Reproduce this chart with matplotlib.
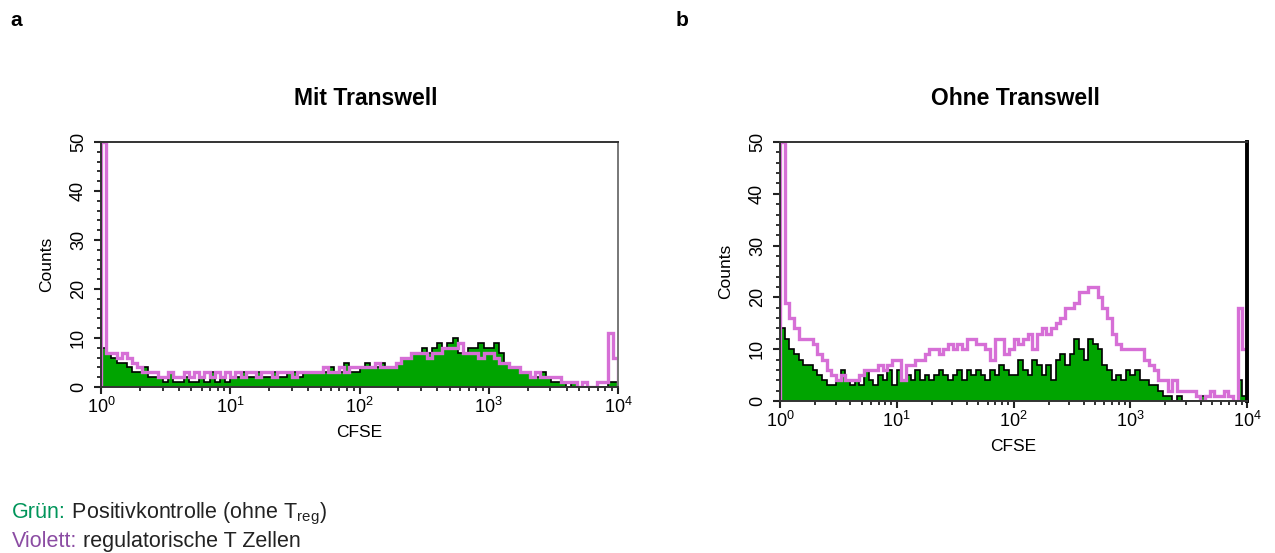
import matplotlib
matplotlib.use("Agg")
import matplotlib.pyplot as plt
import numpy as np
from matplotlib.ticker import MultipleLocator, LogLocator, NullFormatter

plt.rcParams['font.family'] = ['Liberation Sans', 'DejaVu Sans']
plt.rcParams['mathtext.fontset'] = 'custom'
plt.rcParams['mathtext.rm'] = 'Liberation Sans'
plt.rcParams['mathtext.it'] = 'Liberation Sans:italic'

# CFSE histograms, 25 channels per decade from 10^0 to 10^4
# panel a: Mit Transwell
green_a = [8, 7, 6, 5, 5, 4, 3, 3, 4, 2, 2, 2, 1, 3, 1, 1, 2, 1, 1, 2, 1, 3, 1, 2, 1,
           2, 2, 3, 2, 2, 3, 2, 2, 3, 2, 2, 3, 3, 2, 3, 3, 3, 3, 3, 4, 3, 3, 5, 3, 3,
           4, 5, 4, 4, 5, 4, 4, 5, 6, 6, 7, 7, 8, 7, 8, 9, 8, 9, 10, 7, 7, 8, 8, 9, 8,
           8, 9, 7, 5, 4, 4, 3, 3, 2, 2, 3, 2, 1, 1, 1, 0, 1, 0, 0, 0, 0, 0, 0, 1, 1]
violet_a = [50, 7, 7, 6, 7, 6, 5, 4, 3, 3, 3, 2, 2, 3, 2, 2, 3, 2, 3, 2, 3, 2, 3, 2, 3,
            2, 3, 2, 3, 3, 2, 3, 3, 2, 3, 3, 3, 2, 3, 3, 3, 3, 3, 4, 3, 3, 4, 3, 4, 4,
            4, 4, 4, 5, 4, 4, 4, 5, 6, 6, 7, 7, 7, 6, 7, 7, 8, 8, 8, 9, 7, 7, 7, 6, 7,
            7, 6, 5, 5, 4, 4, 3, 3, 2, 3, 2, 2, 2, 2, 1, 1, 1, 0, 1, 0, 0, 1, 1, 11, 6]

# panel b: Ohne Transwell
green_b = [14, 12, 10, 9, 8, 7, 7, 6, 5, 4, 3, 3, 4, 6, 4, 3, 4, 3, 6, 4, 3, 5, 4, 6, 3,
           6, 4, 5, 4, 6, 4, 5, 4, 5, 6, 5, 4, 5, 6, 4, 6, 5, 6, 5, 4, 6, 5, 7, 6, 5,
           5, 8, 6, 5, 8, 7, 5, 7, 4, 8, 9, 7, 9, 12, 10, 8, 12, 11, 10, 7, 6, 4, 5, 4, 6,
           5, 6, 4, 4, 3, 3, 2, 1, 1, 0, 1, 0, 0, 0, 0, 1, 0, 0, 0, 0, 0, 0, 0, 4, 1]
violet_b = [50, 19, 16, 14, 12, 12, 12, 11, 9, 8, 6, 5, 4, 5, 4, 4, 4, 5, 6, 6, 6, 7, 6, 7, 8,
            8, 4, 7, 7, 8, 8, 9, 10, 10, 9, 10, 11, 10, 11, 10, 12, 12, 11, 11, 10, 8, 12, 12, 9, 10,
            12, 11, 12, 13, 10, 13, 14, 13, 14, 15, 16, 18, 18, 19, 21, 21, 22, 22, 20, 18, 16, 13, 11, 10, 10,
            10, 10, 10, 8, 7, 6, 4, 4, 2, 4, 2, 2, 2, 2, 1, 0, 1, 2, 1, 1, 2, 1, 0, 18, 10]

GREEN = '#00a400'
VIOLET = '#d66fd6'
W, H = 1275, 553


def draw_panel(ax, green, violet, right_lw):
    edges = np.logspace(0, 4, len(green) + 1)
    ax.stairs(green, edges, fill=True, color=GREEN, lw=0)
    ax.stairs(green, edges, color='black', lw=1.2)
    ax.stairs(violet, edges, color=VIOLET, lw=2.4)
    ax.set_xscale('log')
    ax.set_xlim(1, 1e4)
    ax.set_ylim(0, 50)
    ax.xaxis.set_major_locator(LogLocator(base=10, numticks=10))
    ax.xaxis.set_minor_locator(LogLocator(base=10, subs=np.arange(2, 10), numticks=10))
    ax.xaxis.set_minor_formatter(NullFormatter())
    ax.yaxis.set_major_locator(MultipleLocator(10))
    ax.yaxis.set_minor_locator(MultipleLocator(2))
    ax.tick_params(axis='both', which='major', length=5, width=1.5, direction='out',
                   labelsize=13, color='#222222')
    ax.tick_params(axis='both', which='minor', length=3, width=1.3, direction='out',
                   color='#222222')
    ax.tick_params(axis='y', labelrotation=90, pad=5)
    ax.tick_params(axis='x', pad=2)
    for s in ax.spines.values():
        s.set_linewidth(1.4)
        s.set_color('#333333')
    ax.spines['right'].set_linewidth(right_lw)
    ax.spines['right'].set_color('black' if right_lw > 2 else '#777777')
    for lab in ax.get_yticklabels():
        lab.set_verticalalignment('center')
    ax.set_ylabel('Counts', fontsize=12.5)
    ax.set_xlabel('CFSE', fontsize=12.5)


fig = plt.figure(figsize=(W / 100, H / 100), dpi=100)

ax_a = fig.add_axes([101 / W, 1 - 387 / H, 517 / W, 245 / H])
draw_panel(ax_a, green_a, violet_a, 1.4)
ax_a.yaxis.set_label_coords(-0.09, 0.5)
ax_a.xaxis.set_label_coords(0.5, -0.155)

ax_b = fig.add_axes([780 / W, 1 - 401 / H, 467 / W, 259 / H])
draw_panel(ax_b, green_b, violet_b, 2.8)
ax_b.yaxis.set_label_coords(-0.1, 0.5)
ax_b.xaxis.set_label_coords(0.5, -0.145)

fig.text(366 / W, 1 - 98 / H, 'Mit Transwell', ha='center', va='center',
         fontsize=16.5, fontweight='bold')
fig.text(1015 / W, 1 - 98 / H, 'Ohne Transwell', ha='center', va='center',
         fontsize=16.5, fontweight='bold')
fig.text(10 / W, 1 - 20 / H, 'a', ha='left', va='center', fontsize=15, fontweight='bold')
fig.text(676 / W, 1 - 20 / H, 'b', ha='left', va='center', fontsize=15, fontweight='bold')

# coloured legend lines, built piece by piece on a shared baseline
renderer = fig.canvas.get_renderer()


def text_line(x_px, y_px, parts):
    for txt, col in parts:
        t = fig.text(x_px / W, 1 - y_px / H, txt, ha='left', va='baseline',
                     fontsize=15.5, color=col)
        x_px += t.get_window_extent(renderer).width


text_line(12, 518, [('Grün:', '#00955a'), ('\u00a0Positivkontrolle (ohne T$_{\\mathregular{reg}}$)', '#222222')])
text_line(12, 547, [('Violett:', '#8b4ca3'), ('\u00a0regulatorische T Zellen', '#222222')])

fig.savefig('out.png', dpi=100)
